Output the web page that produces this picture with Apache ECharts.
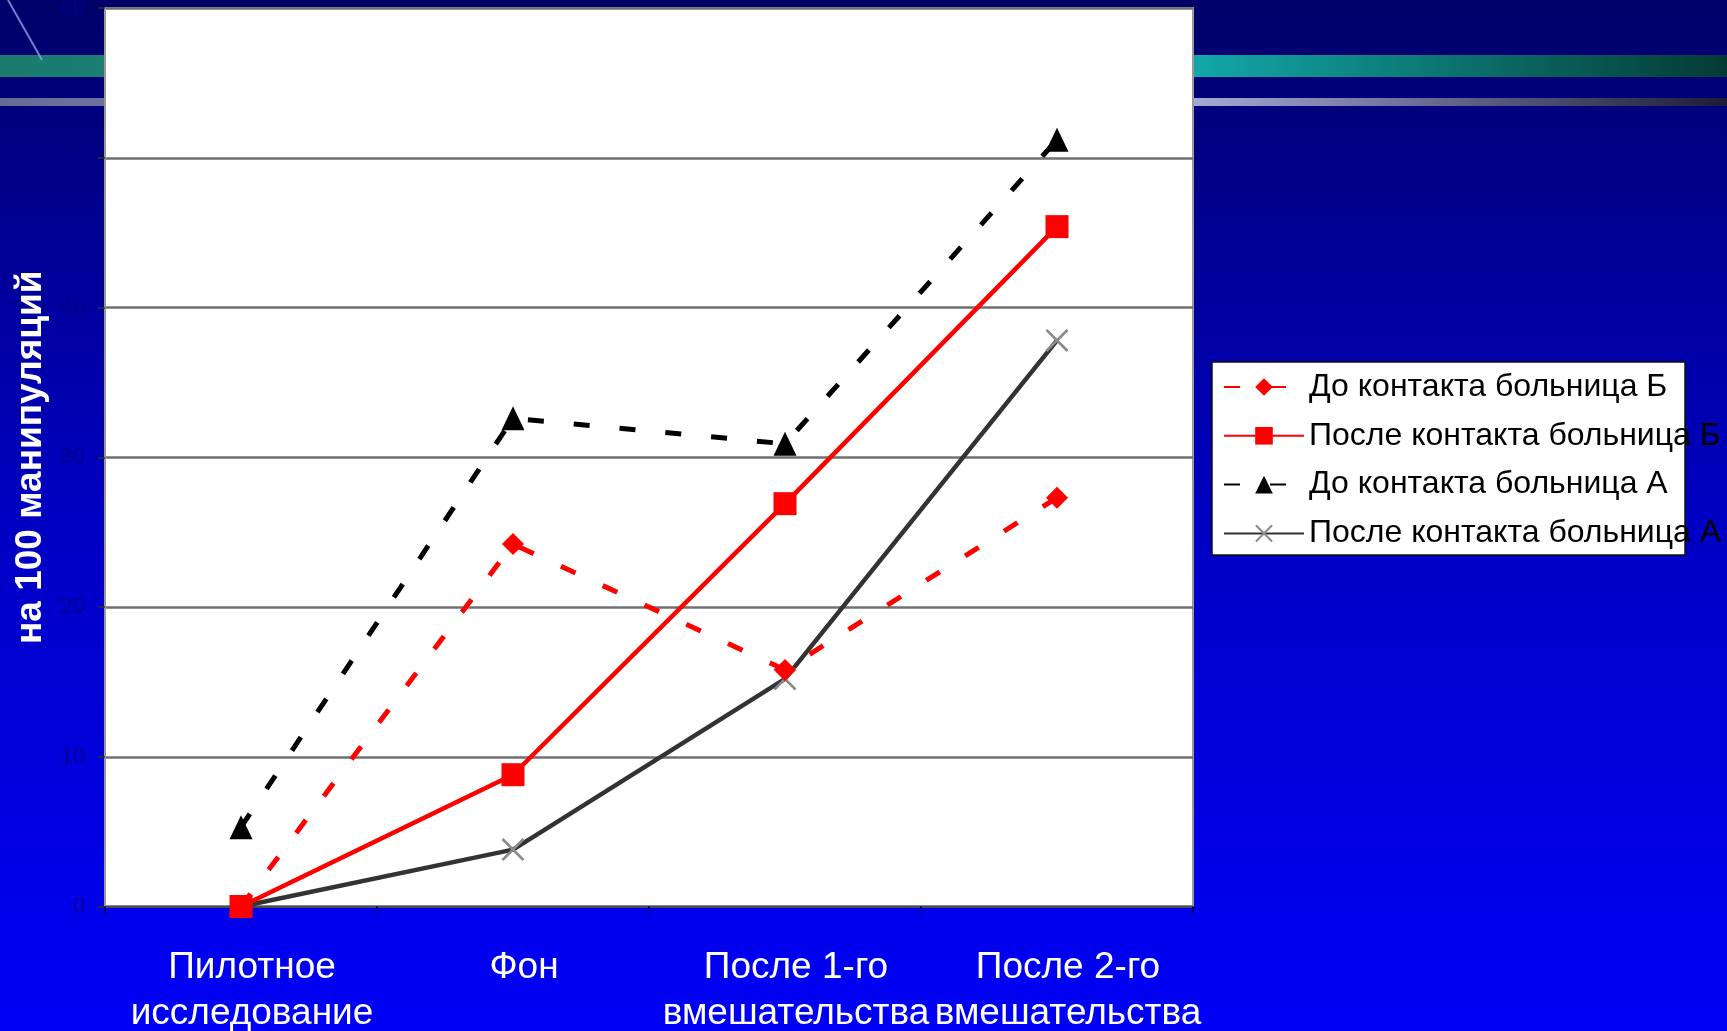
<!DOCTYPE html>
<html><head><meta charset="utf-8">
<script src="https://cdn.jsdelivr.net/npm/echarts@6/dist/echarts.min.js"></script>
<style>html,body{margin:0;padding:0;width:100%;height:100%;overflow:hidden;background:#0000c0}#c{width:1727px;height:1031px}</style>
</head><body><div id="c"></div><script>
const categories = ['Пилотное\nисследование', 'Фон', 'После 1-го\nвмешательства', 'После 2-го\nвмешательства'];
const seriesNames = ['До контакта больница Б', 'После контакта больница Б', 'До контакта больница А', 'После контакта больница А'];
const beforeB = [0, 24.2, 15.8, 27.3];
const afterB = [0, 8.8, 26.9, 45.4];
const beforeA = [5.3, 32.6, 30.9, 51.2];
const afterA = [0, 3.8, 15.2, 37.8];
const yMin = 0, yMax = 60, yStep = 10;
const axisName = 'на 100 манипуляций';

const FONT = 'Liberation Sans, Arial, sans-serif';
const crossPath = 'path://M0,2 L2,0 L12,10 L22,0 L24,2 L14,12 L24,22 L22,24 L12,14 L2,24 L0,22 L10,12 Z';

const chart = echarts.init(document.getElementById('c'), null, {renderer: 'canvas'});
chart.setOption({
  animation: false,
  backgroundColor: {
    type: 'linear', x: 0, y: 0, x2: 0, y2: 1,
    colorStops: [
      {offset: 0, color: '#000068'},
      {offset: 0.2, color: '#00008e'},
      {offset: 0.5, color: '#0000c2'},
      {offset: 1, color: '#0000f6'}
    ]
  },
  graphic: [
    {type: 'rect', z: -10, shape: {x: 0, y: 55, width: 1727, height: 22},
      style: {fill: {type: 'linear', x: 0, y: 0, x2: 1, y2: 0, colorStops: [
        {offset: 0, color: '#1b7a6e'}, {offset: 0.69, color: '#12a8a8'}, {offset: 1, color: '#053a34'}]}}},
    {type: 'rect', z: -10, shape: {x: 0, y: 98, width: 1727, height: 8},
      style: {fill: {type: 'linear', x: 0, y: 0, x2: 1, y2: 0, colorStops: [
        {offset: 0, color: '#6a6a9a'}, {offset: 0.69, color: '#a8a8d8'}, {offset: 1, color: '#1c1c38'}]}}},
    {type: 'line', z: -9, shape: {x1: 8, y1: 0, x2: 42, y2: 60},
      style: {stroke: '#9aa8f0', lineWidth: 2, opacity: 0.75}},
    {type: 'rect', z: 3, shape: {x: 1212, y: 362, width: 473, height: 193},
      style: {fill: '#ffffff', stroke: '#101010', lineWidth: 1.5}}
  ],
  grid: {
    left: 105, right: 534, top: 8, bottom: 124.5,
    outerBoundsMode: 'none', containLabel: false,
    show: true, backgroundColor: '#ffffff', borderColor: '#9a9a9a', borderWidth: 2
  },
  legend: {
    orient: 'vertical', left: 1218, top: 366,
    itemWidth: 80, itemHeight: 22, itemGap: 16.8,
    textStyle: {fontSize: 32, lineHeight: 32, color: '#000', fontFamily: FONT},
    data: seriesNames
  },
  xAxis: {
    type: 'category', data: categories, boundaryGap: true,
    axisLine: {lineStyle: {color: '#404040', width: 1.5}},
    axisTick: {show: true, length: 8, lineStyle: {color: '#000070', width: 2}},
    axisLabel: {interval: 0, margin: 38, color: '#ffffff', fontSize: 37, lineHeight: 46, fontFamily: FONT,
      padding: [0, 0, 0, 22]},
    splitLine: {show: false}
  },
  yAxis: {
    type: 'value', min: yMin, max: yMax, interval: yStep,
    name: axisName, nameLocation: 'middle', nameRotate: 90, nameGap: 54,
    nameTextStyle: {color: '#ffffff', fontSize: 37, fontWeight: 'bold', fontFamily: FONT},
    axisLine: {show: true, lineStyle: {color: '#9a9a9a', width: 1}},
    axisTick: {show: true, length: 7, lineStyle: {color: '#303030', width: 1.5}},
    axisLabel: {margin: 20, color: '#00008c', fontSize: 22, fontFamily: FONT},
    splitLine: {show: true, lineStyle: {color: '#707070', width: 2.5}}
  },
  series: [
    {name: seriesNames[0], type: 'line', data: beforeB, z: 4,
      symbol: 'diamond', symbolSize: 22,
      itemStyle: {color: '#ff0000', borderWidth: 0},
      lineStyle: {color: '#ff0000', width: 5, type: [16, 30], cap: 'butt'}},
    {name: seriesNames[1], type: 'line', data: afterB, z: 5,
      symbol: 'rect', symbolSize: 23,
      itemStyle: {color: '#ff0000', borderWidth: 0},
      lineStyle: {color: '#ff0000', width: 4.5}},
    {name: seriesNames[2], type: 'line', data: beforeA, z: 3,
      symbol: 'triangle', symbolSize: [23, 24],
      itemStyle: {color: '#000000', borderWidth: 0},
      lineStyle: {color: '#000000', width: 5, type: [16, 30], cap: 'butt'}},
    {name: seriesNames[3], type: 'line', data: afterA, z: 2,
      symbol: crossPath, symbolSize: 23,
      itemStyle: {color: '#8a8a8a', borderWidth: 0},
      lineStyle: {color: '#333333', width: 4.5}}
  ]
});
</script></body></html>
